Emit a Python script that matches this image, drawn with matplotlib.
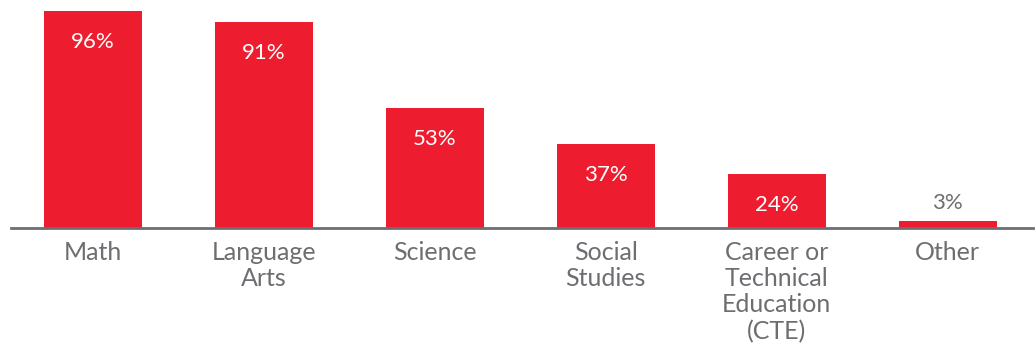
import matplotlib.pyplot as plt
import numpy as np

categories = ["Math", "Language\nArts", "Science", "Social\nStudies",
              "Career or\nTechnical\nEducation\n(CTE)", "Other"]
values = [96, 91, 53, 37, 24, 3]

red = "#ed1c2e"
grey = "#6d6e71"

plt.rcParams['font.family'] = ['Lato', 'DejaVu Sans']

fig = plt.figure(figsize=(10.36, 3.5), dpi=100)
ax = fig.add_axes([11 / 1036, 1 - 228 / 350, 1022 / 1036, 228 / 350])

x = np.arange(len(values))
bars = ax.bar(x, values, width=0.573, color=red)

ax.set_xlim(-0.48, 5.5)
ax.set_ylim(0, 228 / 2.26)

for b, v in zip(bars, values):
    cx = b.get_x() + b.get_width() / 2
    if v > 10:
        ax.annotate(f"{v}%", (cx, v), xytext=(0, -31), textcoords="offset pixels",
                    ha="center", va="center", color="white", fontsize=16)
    else:
        ax.annotate(f"{v}%", (cx, v), xytext=(0, 18), textcoords="offset pixels",
                    ha="center", va="center", color=grey, fontsize=16)

ax.set_xticks(x)
ax.set_xticklabels(categories, fontsize=18, color=grey, linespacing=1.18)
ax.tick_params(axis="x", length=0, pad=9)
ax.set_yticks([])

for s in ["top", "right", "left"]:
    ax.spines[s].set_visible(False)
ax.spines["bottom"].set_color(grey)
ax.spines["bottom"].set_linewidth(2)

fig.savefig("out.png", dpi=100)
